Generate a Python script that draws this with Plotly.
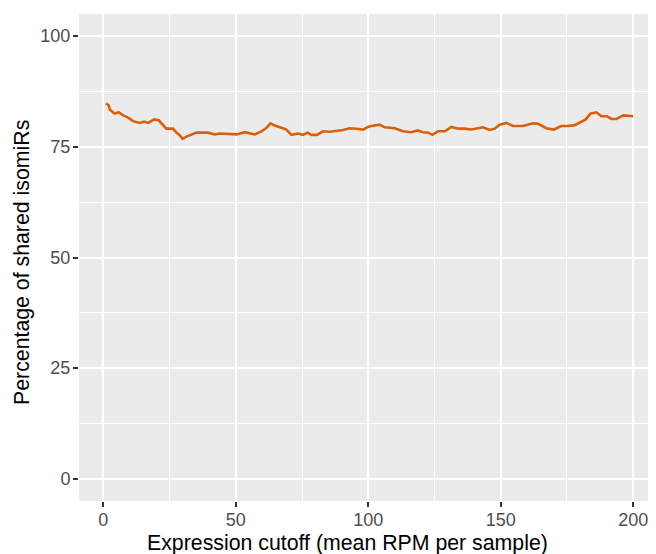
import plotly.graph_objects as go

cutoff = [1, 2, 2.5, 4.3, 5.8, 7.5, 9.4, 11.2, 13.8, 15.4, 16.9, 19.2, 20.9, 22.6, 23.8,
          26.3, 27.6, 28.9, 29.9, 31.4, 33.3, 35.2, 39.5, 42.1, 44, 47.7, 50.3, 53.4,
          57.2, 59.7, 61.6, 63.1, 64.7, 67.2, 69.1, 71, 73.5, 75.4, 77.1, 78.6, 80.7,
          82.9, 85.5, 90.5, 93, 95.5, 98, 99.9, 101.2, 104.3, 106.2, 110, 113.1, 116.3,
          118.6, 120.7, 122.6, 124.2, 126.3, 128.9, 131.4, 133.9, 136.4, 138.9, 143.3,
          145.8, 147.7, 149.6, 152.2, 154.6, 158.4, 162.2, 164.1, 167.2, 170, 172.9,
          175.4, 177.9, 180.5, 182.1, 183.8, 186.1, 188, 190.1, 191.8, 193.7, 196.2, 200]
shared_pct = [84.8, 84.4, 83.4, 82.5, 82.8, 82.1, 81.6, 80.8, 80.4, 80.7, 80.4, 81.2, 81.0,
              80.0, 79.1, 79.1, 78.2, 77.6, 76.8, 77.3, 77.8, 78.2, 78.2, 77.8, 78.0, 77.9,
              77.8, 78.3, 77.8, 78.5, 79.3, 80.3, 79.8, 79.3, 78.9, 77.7, 78.0, 77.7, 78.2,
              77.7, 77.7, 78.5, 78.4, 78.8, 79.2, 79.1, 78.9, 79.5, 79.7, 80.0, 79.4, 79.2,
              78.5, 78.3, 78.7, 78.3, 78.2, 77.7, 78.5, 78.5, 79.5, 79.1, 79.1, 78.9, 79.4,
              78.8, 79.1, 80.0, 80.4, 79.7, 79.7, 80.3, 80.2, 79.2, 78.9, 79.7, 79.7, 79.9,
              80.7, 81.2, 82.5, 82.8, 81.9, 81.9, 81.3, 81.3, 82.1, 81.9]

x_ticks = [0, 50, 100, 150, 200]
y_ticks = [0, 25, 50, 75, 100]
x_title = "Expression cutoff (mean RPM per sample)"
y_title = "Percentage of shared isomiRs"

FONT = "Liberation Sans, Arial, sans-serif"

# the page body has an 8px margin, so the figure is drawn 8px in from the top-left
W, HT = 648, 546
L, R, T, B = 71, 0, 6, 53
H = HT - T - B
PW = W - L - R

fig = go.Figure()
fig.add_trace(go.Scatter(x=cutoff, y=shared_pct, mode="lines",
                         line=dict(color="#D95F0E", width=2.6), showlegend=False))

axis_common = dict(
    showgrid=True, gridcolor="white", gridwidth=2.2,
    zeroline=False, showline=False, automargin=False,
    ticks="outside", ticklen=5, tickwidth=1.6, tickcolor="#333333",
    tickfont=dict(family=FONT, size=18, color="#4D4D4D"),
)

fig.update_layout(
    width=W, height=HT,
    margin=dict(l=L, r=R, t=T, b=B),
    paper_bgcolor="white", plot_bgcolor="#EBEBEB",
    font=dict(family=FONT, color="black"),
    xaxis=dict(**axis_common, range=[-9.17, 208.6], tickvals=x_ticks,
               ticktext=[str(v) for v in x_ticks], ticklabelstandoff=-3,
               minor=dict(tickvals=[25, 75, 125, 175], showgrid=True, gridcolor="white",
                          gridwidth=1.1, ticks="")),
    yaxis=dict(**axis_common, range=[-5, 105], tickvals=y_ticks,
               ticktext=[str(v) for v in y_ticks], ticklabelstandoff=-1,
               minor=dict(tickvals=[12.5, 37.5, 62.5, 87.5], showgrid=True, gridcolor="white",
                          gridwidth=1.1, ticks="")),
    annotations=[
        dict(text=x_title, xref="paper", yref="paper", x=(339 - L) / PW, y=0,
             xanchor="center", yanchor="middle", yshift=-(535 - (HT - B)),
             showarrow=False, font=dict(family=FONT, size=21.3, color="black")),
        dict(text=y_title, xref="paper", yref="paper", x=0, y=((HT - B) - 255) / H,
             xanchor="center", yanchor="middle", xshift=-(L - 14), textangle=-90,
             showarrow=False, font=dict(family=FONT, size=21.3, color="black")),
    ],
)

fig.write_html("out.html")
